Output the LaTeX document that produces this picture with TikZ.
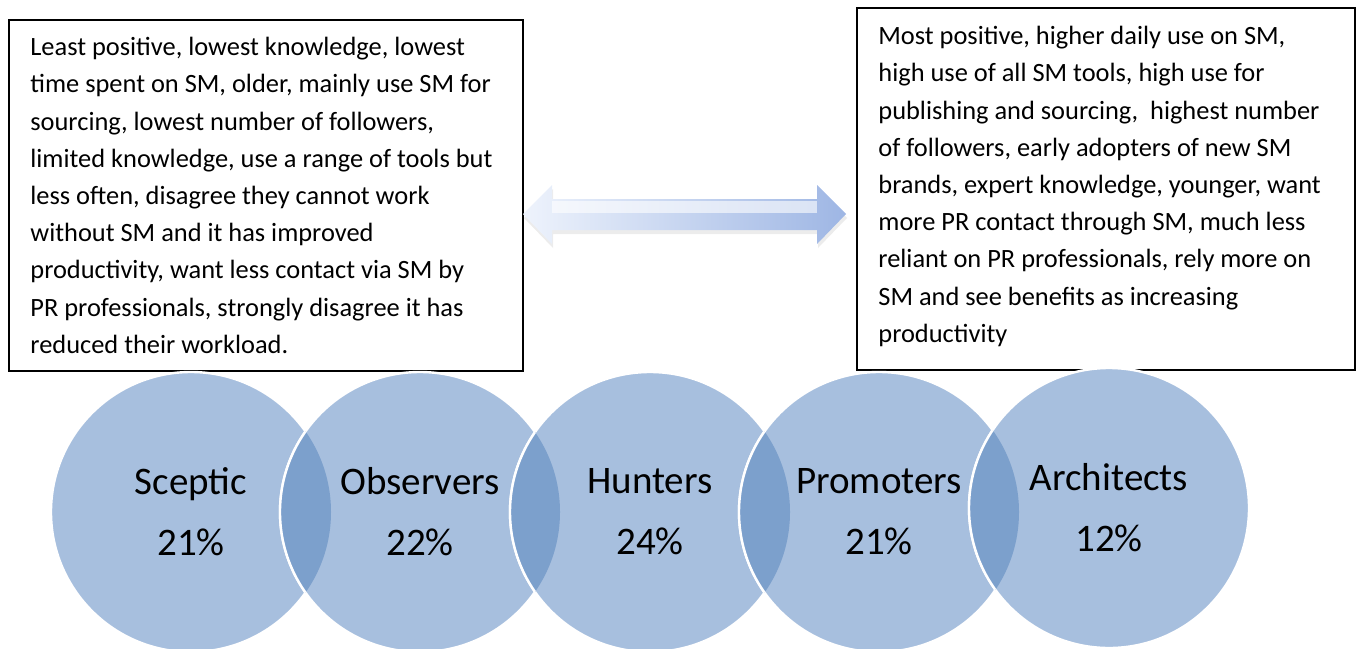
\documentclass[tikz,border=0pt]{standalone}
\usepackage{fontspec}
\setmainfont{Carlito}
\usepackage{xcolor}
\usetikzlibrary{calc}
\usetikzlibrary{shadows}

\definecolor{circfill}{RGB}{167,191,222}
\definecolor{lensfill}{RGB}{124,160,204}
\definecolor{arrowblue}{RGB}{158,182,228}
\definecolor{arrowlight}{RGB}{238,243,252}

\tikzset{
  infobox/.style={draw, line width=0.8pt, anchor=north west, inner sep=0pt},
  infotext/.style={anchor=north west, align=left, inner sep=0pt, font=\fontsize{13.2}{18.6}\selectfont},
  segment/.style={circle, fill=circfill, draw=white, line width=1.2pt, minimum size=140pt, inner sep=0pt, align=center, font=\fontsize{19.5}{30.5}\selectfont},
}

\begin{document}
\begin{tikzpicture}[x=0.5pt, y=-0.5pt]
    \clip (0,0) rectangle (1358,648);

    \node[infobox, minimum width=257pt, minimum height=175.5pt] (leftbox) at (8,19) {};
    \node[infotext] (lefttext) at (30,37) {Least positive, lowest knowledge, lowest\\
      time spent on SM, older, mainly use SM for\\
      sourcing, lowest number of followers,\\
      limited knowledge, use a range of tools but\\
      less often, disagree they cannot work\\
      without SM and it has improved\\
      productivity, want less contact via SM by\\
      PR professionals, strongly disagree it has\\
      reduced their workload.};

    \node[infobox, minimum width=249pt, minimum height=181pt] (rightbox) at (856,7) {};
    \node[infotext] (righttext) at (878,26) {Most positive, higher daily use on SM,\\
      high use of all SM tools, high use for\\
      publishing and sourcing,\ \ highest number\\
      of followers, early adopters of new SM\\
      brands, expert knowledge, younger, want\\
      more PR contact through SM, much less\\
      reliant on PR professionals, rely more on\\
      SM and see benefits as increasing\\
      productivity};

    \coordinate (ltip) at (523,214);
    \coordinate (rtip) at (846,214);
    \shade[left color=arrowlight, right color=arrowblue,
      drop shadow={shadow xshift=0.5pt, shadow yshift=-2pt, opacity=0.15}]
      (ltip) -- (552,185) -- (552,199) -- (817,199) -- (817,185) -- (rtip)
      -- (817,244) -- (817,230) -- (552,230) -- (552,244) -- cycle;
    \fill[white, opacity=0.6] (552,201) rectangle (817,213);

    \node[segment] (sceptic) at (191,512) {Sceptic\\21\%};
    \node[segment] (observers) at (420,512) {Observers\\22\%};
    \node[segment] (hunters) at (650,512) {Hunters\\24\%};
    \node[segment] (promoters) at (879,512) {Promoters\\21\%};
    \node[segment] (architects) at (1109,508) {Architects\\12\%};

    \foreach \a/\b in {sceptic/observers, observers/hunters, hunters/promoters, promoters/architects} {
      \begin{scope}
        \clip (\a.center) circle[radius=70pt];
        \fill[lensfill] (\b.center) circle[radius=70pt];
        \draw[white, line width=1.2pt] (\b.center) circle[radius=70pt];
      \end{scope}
    }
\end{tikzpicture}
\end{document}
